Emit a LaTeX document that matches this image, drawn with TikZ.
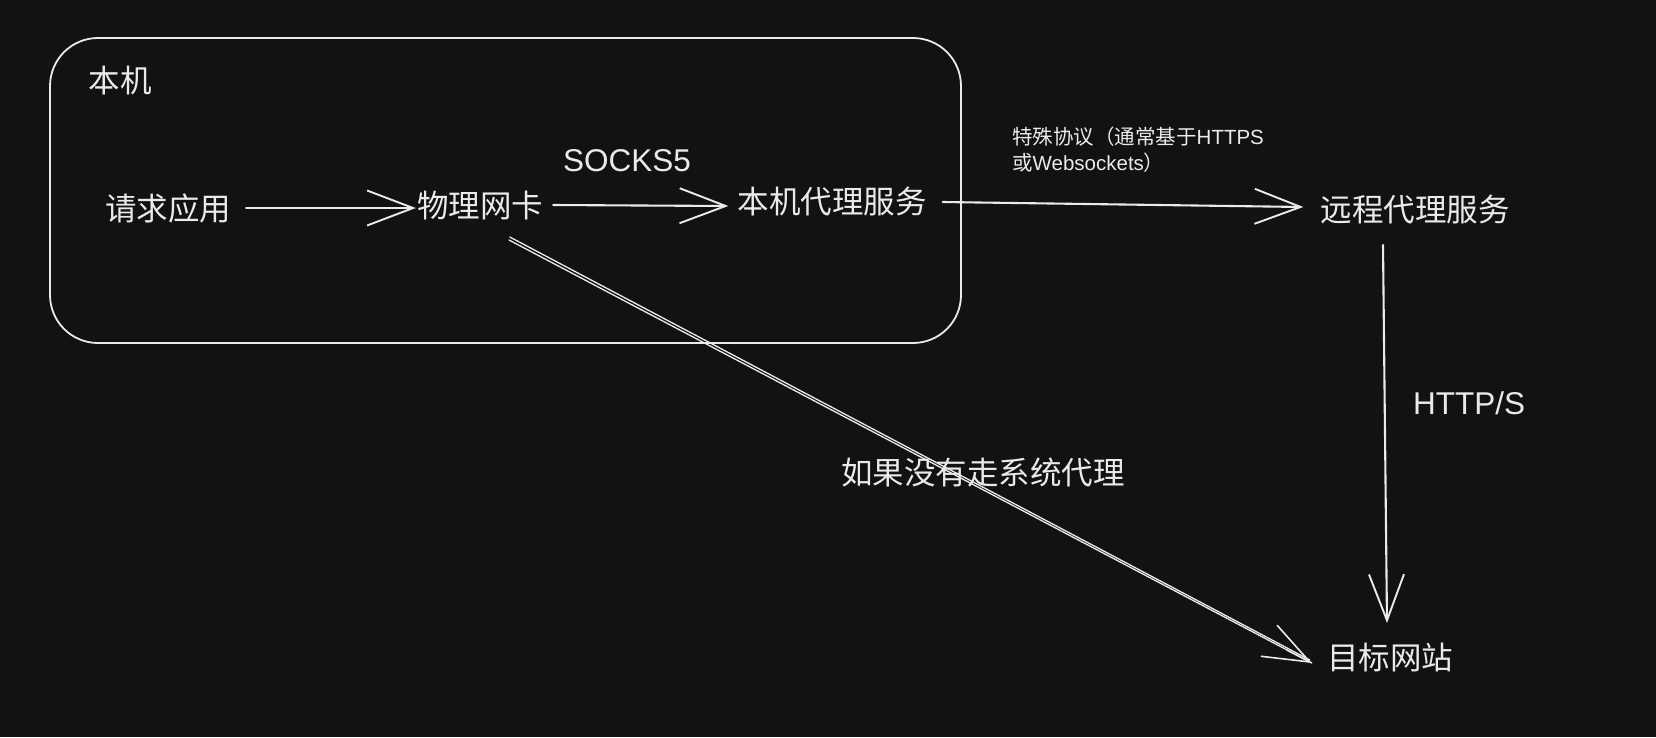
\documentclass[tikz,border=0pt]{standalone}
\usepackage{fontspec}
\setmainfont{Liberation Sans}
\newfontfamily\cjk{Noto Sans CJK SC}
\usetikzlibrary{arrows.meta,calc}
\definecolor{bgc}{HTML}{121212}
\definecolor{ink}{HTML}{EAEAEA}
\tikzset{
  lbl/.style={text=ink, inner sep=0pt, font=\fontsize{31.5}{36}\selectfont},
  smalllbl/.style={text=ink, inner sep=0pt, align=left, font=\fontsize{20.5}{26}\selectfont},
  conn/.style={draw=ink, line width=2.1pt, line cap=round,
     -{Straight Barb[length=46pt,width=35pt,line width=1.9pt]}},
  thin/.style={draw=ink, line width=1.3pt, line cap=round},
  hostbox/.style={draw=ink, line width=1.8pt, rounded corners=48pt, inner sep=0pt}
}
\begin{document}
\begin{tikzpicture}[x=1pt,y=-1pt]
\fill[bgc] (0,0) rectangle (1656,737);
\useasboundingbox (0,0) rectangle (1656,737);

\node[hostbox, minimum width=911pt, minimum height=305pt] (host) at (505.5,190.5) {};
\node[lbl] (hostlbl) at (120,81) {\cjk 本机};

\node[lbl] (app) at (168,209) {\cjk 请求应用};
\node[lbl] (nic) at (480,206) {\cjk 物理网卡};
\node[lbl] (lp)  at (832,202) {\cjk 本机代理服务};
\node[lbl] (rp)  at (1415,210) {\cjk 远程代理服务};
\node[lbl] (tgt) at (1390,657) {\cjk 目标网站};

\node[lbl] (socks) at (627,161) {SOCKS5};
\node[lbl] (https) at (1469,403) {HTTP/S};
\node[smalllbl, anchor=west] (proto) at (1012,150) {{\cjk 特殊协议（通常基于}HTTPS\\{\cjk 或}Websockets{\cjk ）}};
\node[lbl] (direct) at (983,472) {\cjk 如果没有走系统代理};

% connectors
\draw[conn] ($(app.east)+(15,-1)$) -- ($(nic.west)+(-1,2)$);
\draw[conn] ($(nic.east)+(10,-1)$) -- ($(lp.west)+(-9,4)$);
\draw[conn] ($(lp.east)+(16,0)$) -- ($(rp.west)+(-17,-3)$);
\draw[conn] ($(rp.center)+(-32,35)$) -- ($(tgt.center)+(-3,-34)$);

% direct path (double sketch stroke)
\draw[thin] ($(nic.center)+(29,34)$) -- ($(tgt.west)+(-15,6)$);
\draw[thin] ($(nic.center)+(29.8,31)$) -- ($(tgt.west)+(-17,3)$);
\draw[draw=ink, line width=1.5pt, line cap=round, -{Straight Barb[length=46pt,width=35pt,line width=1.6pt]}]
  ($(tgt.west)+(-40,-7)$) -- ($(tgt.west)+(-15,6)$);
\end{tikzpicture}
\end{document}
